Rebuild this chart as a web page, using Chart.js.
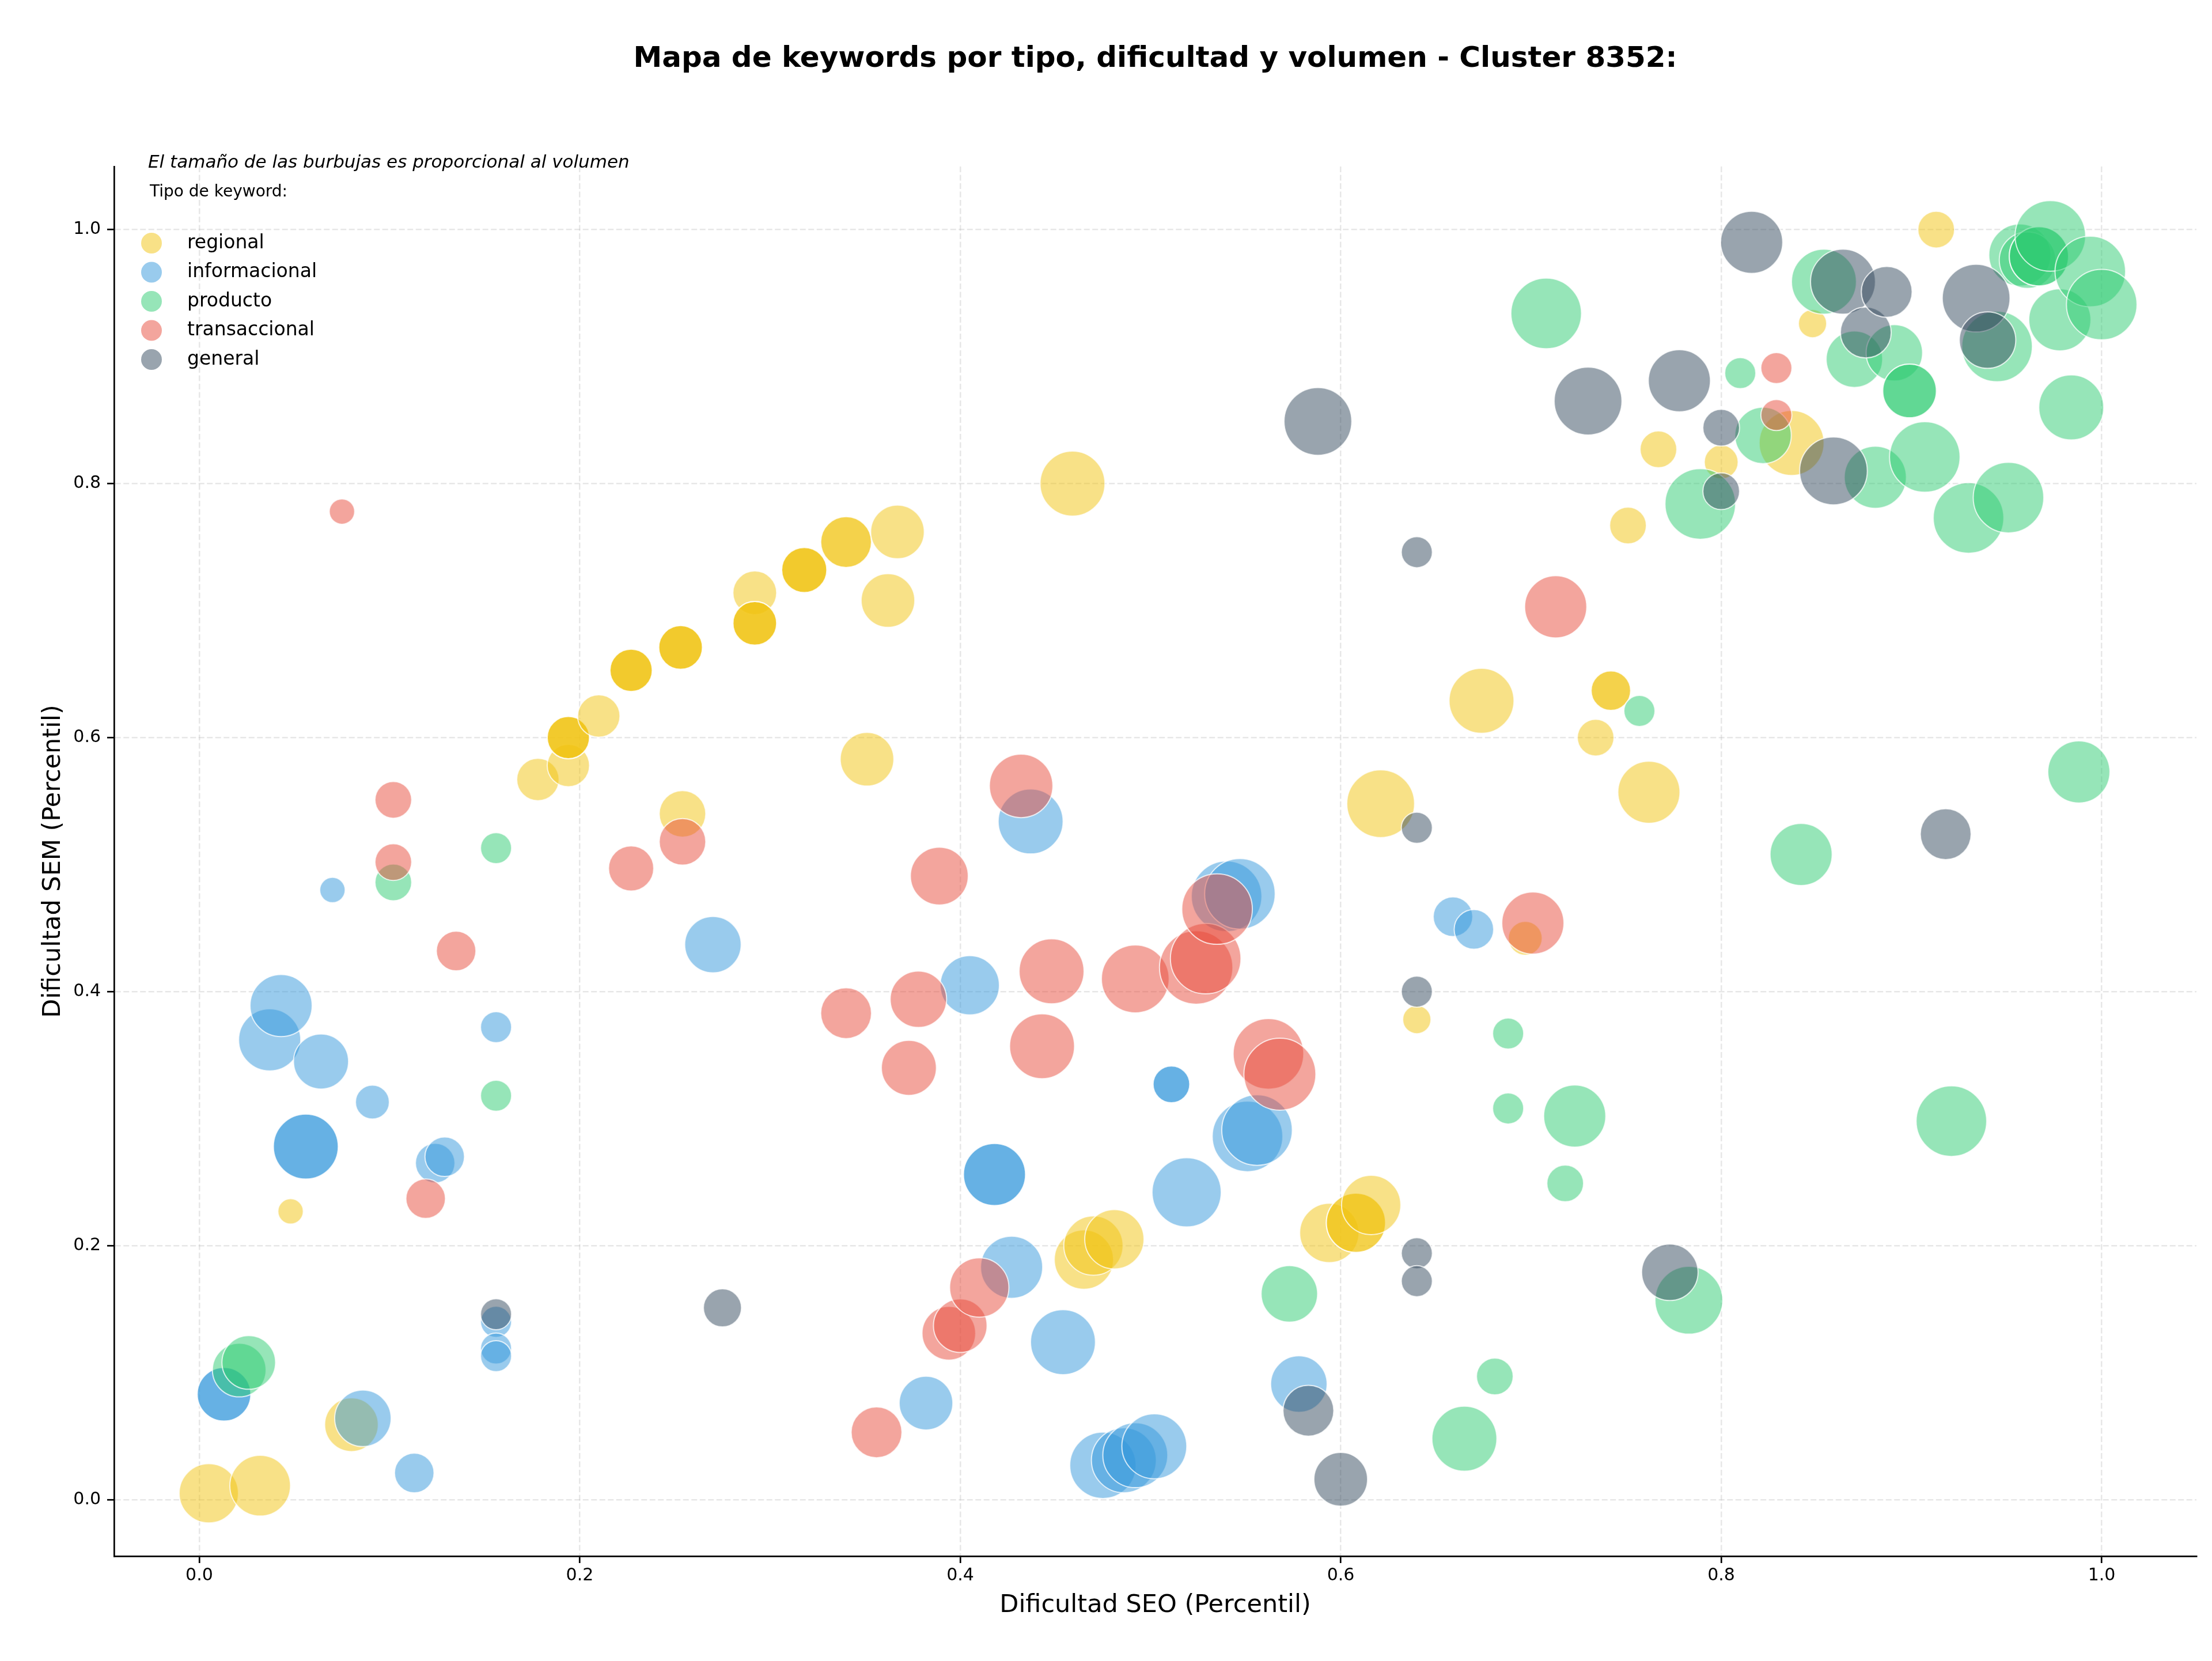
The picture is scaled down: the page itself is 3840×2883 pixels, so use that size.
<!DOCTYPE html>
<html>
<head>
<meta charset="utf-8">
<script src="https://cdn.jsdelivr.net/npm/chart.js@4.4.1/dist/chart.umd.min.js"></script>
<style>
  html, body { margin: 0; padding: 0; background: #fff; overflow: hidden; }
  #chart { display: block; }
</style>
</head>
<body>
<canvas id="chart" width="3840" height="2883"></canvas>
<script>
// datos: [dificultad SEO, dificultad SEM, volumen]
const regional = [
  [0.005,0.005,441],[0.032,0.011,462],[0.080,0.059,361],[0.048,0.227,81],
  [0.178,0.567,225],[0.194,0.578,225],[0.194,0.600,225],[0.194,0.600,225],[0.194,0.600,225],
  [0.210,0.617,225],[0.227,0.653,225],[0.227,0.653,225],[0.227,0.653,225],[0.254,0.540,272],
  [0.253,0.671,240],[0.253,0.671,240],[0.253,0.671,240],[0.292,0.714,240],
  [0.292,0.690,240],[0.292,0.690,240],[0.292,0.690,240],[0.318,0.732,256],[0.318,0.732,256],[0.318,0.732,256],
  [0.340,0.754,324],[0.340,0.754,324],[0.351,0.583,361],[0.362,0.708,361],[0.367,0.762,361],
  [0.459,0.800,529],[0.465,0.189,441],[0.470,0.200,441],[0.481,0.205,441],[0.594,0.210,441],
  [0.608,0.218,441],[0.608,0.218,441],[0.616,0.232,441],[0.621,0.548,576],[0.640,0.378,100],
  [0.674,0.629,529],[0.697,0.442,144],[0.734,0.600,169],[0.742,0.637,196],[0.742,0.637,196],
  [0.751,0.767,169],[0.762,0.557,484],[0.767,0.827,169],[0.800,0.817,144],[0.837,0.832,529],
  [0.848,0.926,100],[0.913,1.000,169]
];
const informacional = [
  [0.013,0.083,361],[0.013,0.083,361],[0.086,0.064,400],[0.113,0.021,196],[0.037,0.362,484],
  [0.043,0.389,484],[0.064,0.345,380],[0.070,0.480,81],[0.056,0.278,529],[0.056,0.278,529],
  [0.091,0.313,144],[0.124,0.265,196],[0.129,0.270,196],[0.156,0.372,121],[0.156,0.140,121],
  [0.156,0.119,121],[0.156,0.113,121],[0.270,0.437,400],[0.382,0.076,361],[0.405,0.405,441],
  [0.418,0.256,484],[0.418,0.256,484],[0.427,0.183,484],[0.437,0.534,529],[0.454,0.124,529],
  [0.475,0.027,552],[0.486,0.031,529],[0.492,0.035,529],[0.502,0.042,529],[0.511,0.327,169],
  [0.511,0.327,169],[0.519,0.242,600],[0.551,0.286,625],[0.556,0.291,625],[0.540,0.475,625],
  [0.547,0.477,625],[0.578,0.091,400],[0.659,0.459,196],[0.670,0.449,196]
];
const producto = [
  [0.021,0.102,361],[0.026,0.108,361],[0.102,0.486,169],[0.156,0.513,121],[0.156,0.318,121],
  [0.573,0.162,400],[0.665,0.048,529],[0.681,0.097,169],[0.688,0.367,121],[0.688,0.308,121],
  [0.718,0.249,169],[0.723,0.302,484],[0.708,0.934,625],[0.757,0.621,121],[0.783,0.157,576],
  [0.810,0.887,121],[0.789,0.784,625],[0.822,0.838,400],[0.842,0.508,484],[0.854,0.959,529],
  [0.870,0.898,400],[0.891,0.903,400],[0.881,0.805,484],[0.899,0.873,361],[0.899,0.873,361],
  [0.907,0.821,625],[0.930,0.773,625],[0.921,0.298,625],[0.945,0.908,625],[0.951,0.789,625],
  [0.957,0.980,484],[0.961,0.976,400],[0.967,0.979,441],[0.967,0.979,441],[0.973,0.995,625],
  [0.978,0.929,484],[0.984,0.860,529],[0.994,0.967,625],[1.000,0.941,625],[0.988,0.573,484]
];
const transaccional = [
  [0.075,0.778,81],[0.102,0.551,169],[0.102,0.502,169],[0.135,0.432,196],[0.119,0.237,196],
  [0.227,0.497,256],[0.254,0.518,272],[0.340,0.383,324],[0.356,0.053,324],[0.373,0.340,380],
  [0.378,0.394,400],[0.389,0.491,420],[0.394,0.131,361],[0.400,0.137,361],[0.410,0.167,441],
  [0.432,0.562,506],[0.443,0.357,529],[0.448,0.416,529],[0.492,0.410,576],[0.524,0.419,676],
  [0.529,0.426,625],[0.535,0.465,625],[0.562,0.351,625],[0.568,0.335,650],[0.701,0.454,484],
  [0.713,0.703,484],[0.829,0.891,121],[0.829,0.854,121]
];
const general = [
  [0.156,0.146,121],[0.275,0.151,182],[0.583,0.070,324],[0.600,0.016,361],[0.588,0.849,576],
  [0.640,0.746,121],[0.640,0.529,121],[0.640,0.400,121],[0.640,0.194,121],[0.640,0.172,121],
  [0.730,0.865,576],[0.773,0.179,400],[0.778,0.881,484],[0.800,0.844,169],[0.800,0.794,169],
  [0.816,0.990,484],[0.859,0.810,576],[0.864,0.959,529],[0.876,0.919,324],[0.887,0.951,324],
  [0.918,0.524,324],[0.934,0.946,576],[0.940,0.913,400]
];

const tipos = ['regional', 'informacional', 'producto', 'transaccional', 'general'];
const colores = ['#f1c40f', '#3498db', '#2ecc71', '#e74c3c', '#34495e'];
const xTicks = [0.0, 0.2, 0.4, 0.6, 0.8, 1.0];
const yTicks = [0.0, 0.2, 0.4, 0.6, 0.8, 1.0];

const FONT = 'DejaVu Sans';
const R_SCALE = 2.449; // radio en px = sqrt(volumen) * escala

function alpha(hex, a) {
  const n = parseInt(hex.slice(1), 16);
  return `rgba(${(n >> 16) & 255},${(n >> 8) & 255},${n & 255},${a})`;
}

const series = [regional, informacional, producto, transaccional, general];
const datasets = series.map((rows, i) => ({
  label: tipos[i],
  data: rows.map(([x, y, v]) => ({ x: x, y: y, r: Math.sqrt(v) * R_SCALE })),
  backgroundColor: alpha(colores[i], 0.5),
  borderColor: 'rgba(255,255,255,0.75)',
  borderWidth: 2,
  order: tipos.length - i,
  clip: 0
}));

// título, subtítulo y leyenda dibujados a mano
const decor = {
  id: 'decor',
  afterDraw(chart) {
    const ctx = chart.ctx;
    const area = chart.chartArea;
    ctx.save();
    ctx.fillStyle = '#000';
    ctx.textBaseline = 'middle';
    ctx.textAlign = 'center';
    ctx.font = `bold 50px "${FONT}"`;
    ctx.fillText('Mapa de keywords por tipo, dificultad y volumen - Cluster 8352:', (area.left + area.right) / 2, 103);

    ctx.textAlign = 'left';
    ctx.textBaseline = 'alphabetic';
    ctx.font = `italic 31px "${FONT}"`;
    ctx.fillText('El tamaño de las burbujas es proporcional al volumen', 257, 291);

    ctx.textBaseline = 'middle';
    ctx.font = `28px "${FONT}"`;
    ctx.fillText('Tipo de keyword:', 260, 334);
    ctx.font = `33px "${FONT}"`;
    tipos.forEach((t, i) => {
      const y = 422 + i * 50.5;
      ctx.beginPath();
      ctx.arc(263, y, 18, 0, Math.PI * 2);
      ctx.fillStyle = alpha(colores[i], 0.5);
      ctx.fill();
      ctx.fillStyle = '#000';
      ctx.fillText(t, 325, y);
    });
    ctx.restore();
  }
};

Chart.defaults.font.family = FONT;
Chart.defaults.color = '#000';

function ejeComun(ticks, titulo, fit, titlePad) {
  return {
    type: 'linear',
    afterFit: fit,
    afterBuildTicks: s => { s.ticks = ticks.map(v => ({ value: v })); },
    ticks: { callback: v => v.toFixed(1), font: { size: 30 }, color: '#000', maxRotation: 0 },
    grid: {
      color: 'rgba(176,176,176,0.3)', lineWidth: 2.5,
      drawTicks: true, tickLength: 12, tickColor: '#000', tickWidth: 2.7, tickBorderDash: []
    },
    border: { display: true, color: '#000', width: 2.7, dash: [10, 4.5] },
    title: { display: true, text: titulo, font: { size: 43 }, color: '#000', padding: titlePad }
  };
}

const xScale = ejeComun(xTicks, 'Dificultad SEO (Percentil)', s => { s.height = 182; }, { top: 0, bottom: 70 });
xScale.min = -0.0448; xScale.max = 1.0498;
xScale.ticks.padding = 4;
const yScale = ejeComun(yTicks, 'Dificultad SEM (Percentil)', s => { s.width = 198; }, { top: 67, bottom: 0 });
yScale.min = -0.0445; yScale.max = 1.0497;
yScale.ticks.padding = 11;

new Chart(document.getElementById('chart'), {
  type: 'bubble',
  data: { datasets: datasets },
  options: {
    responsive: false,
    devicePixelRatio: 1,
    animation: false,
    events: [],
    layout: { autoPadding: false, padding: { top: 289, right: 27, left: 0, bottom: 0 } },
    scales: { x: xScale, y: yScale },
    plugins: { legend: { display: false }, tooltip: { enabled: false }, title: { display: false } }
  },
  plugins: [decor]
});
</script>
</body>
</html>
